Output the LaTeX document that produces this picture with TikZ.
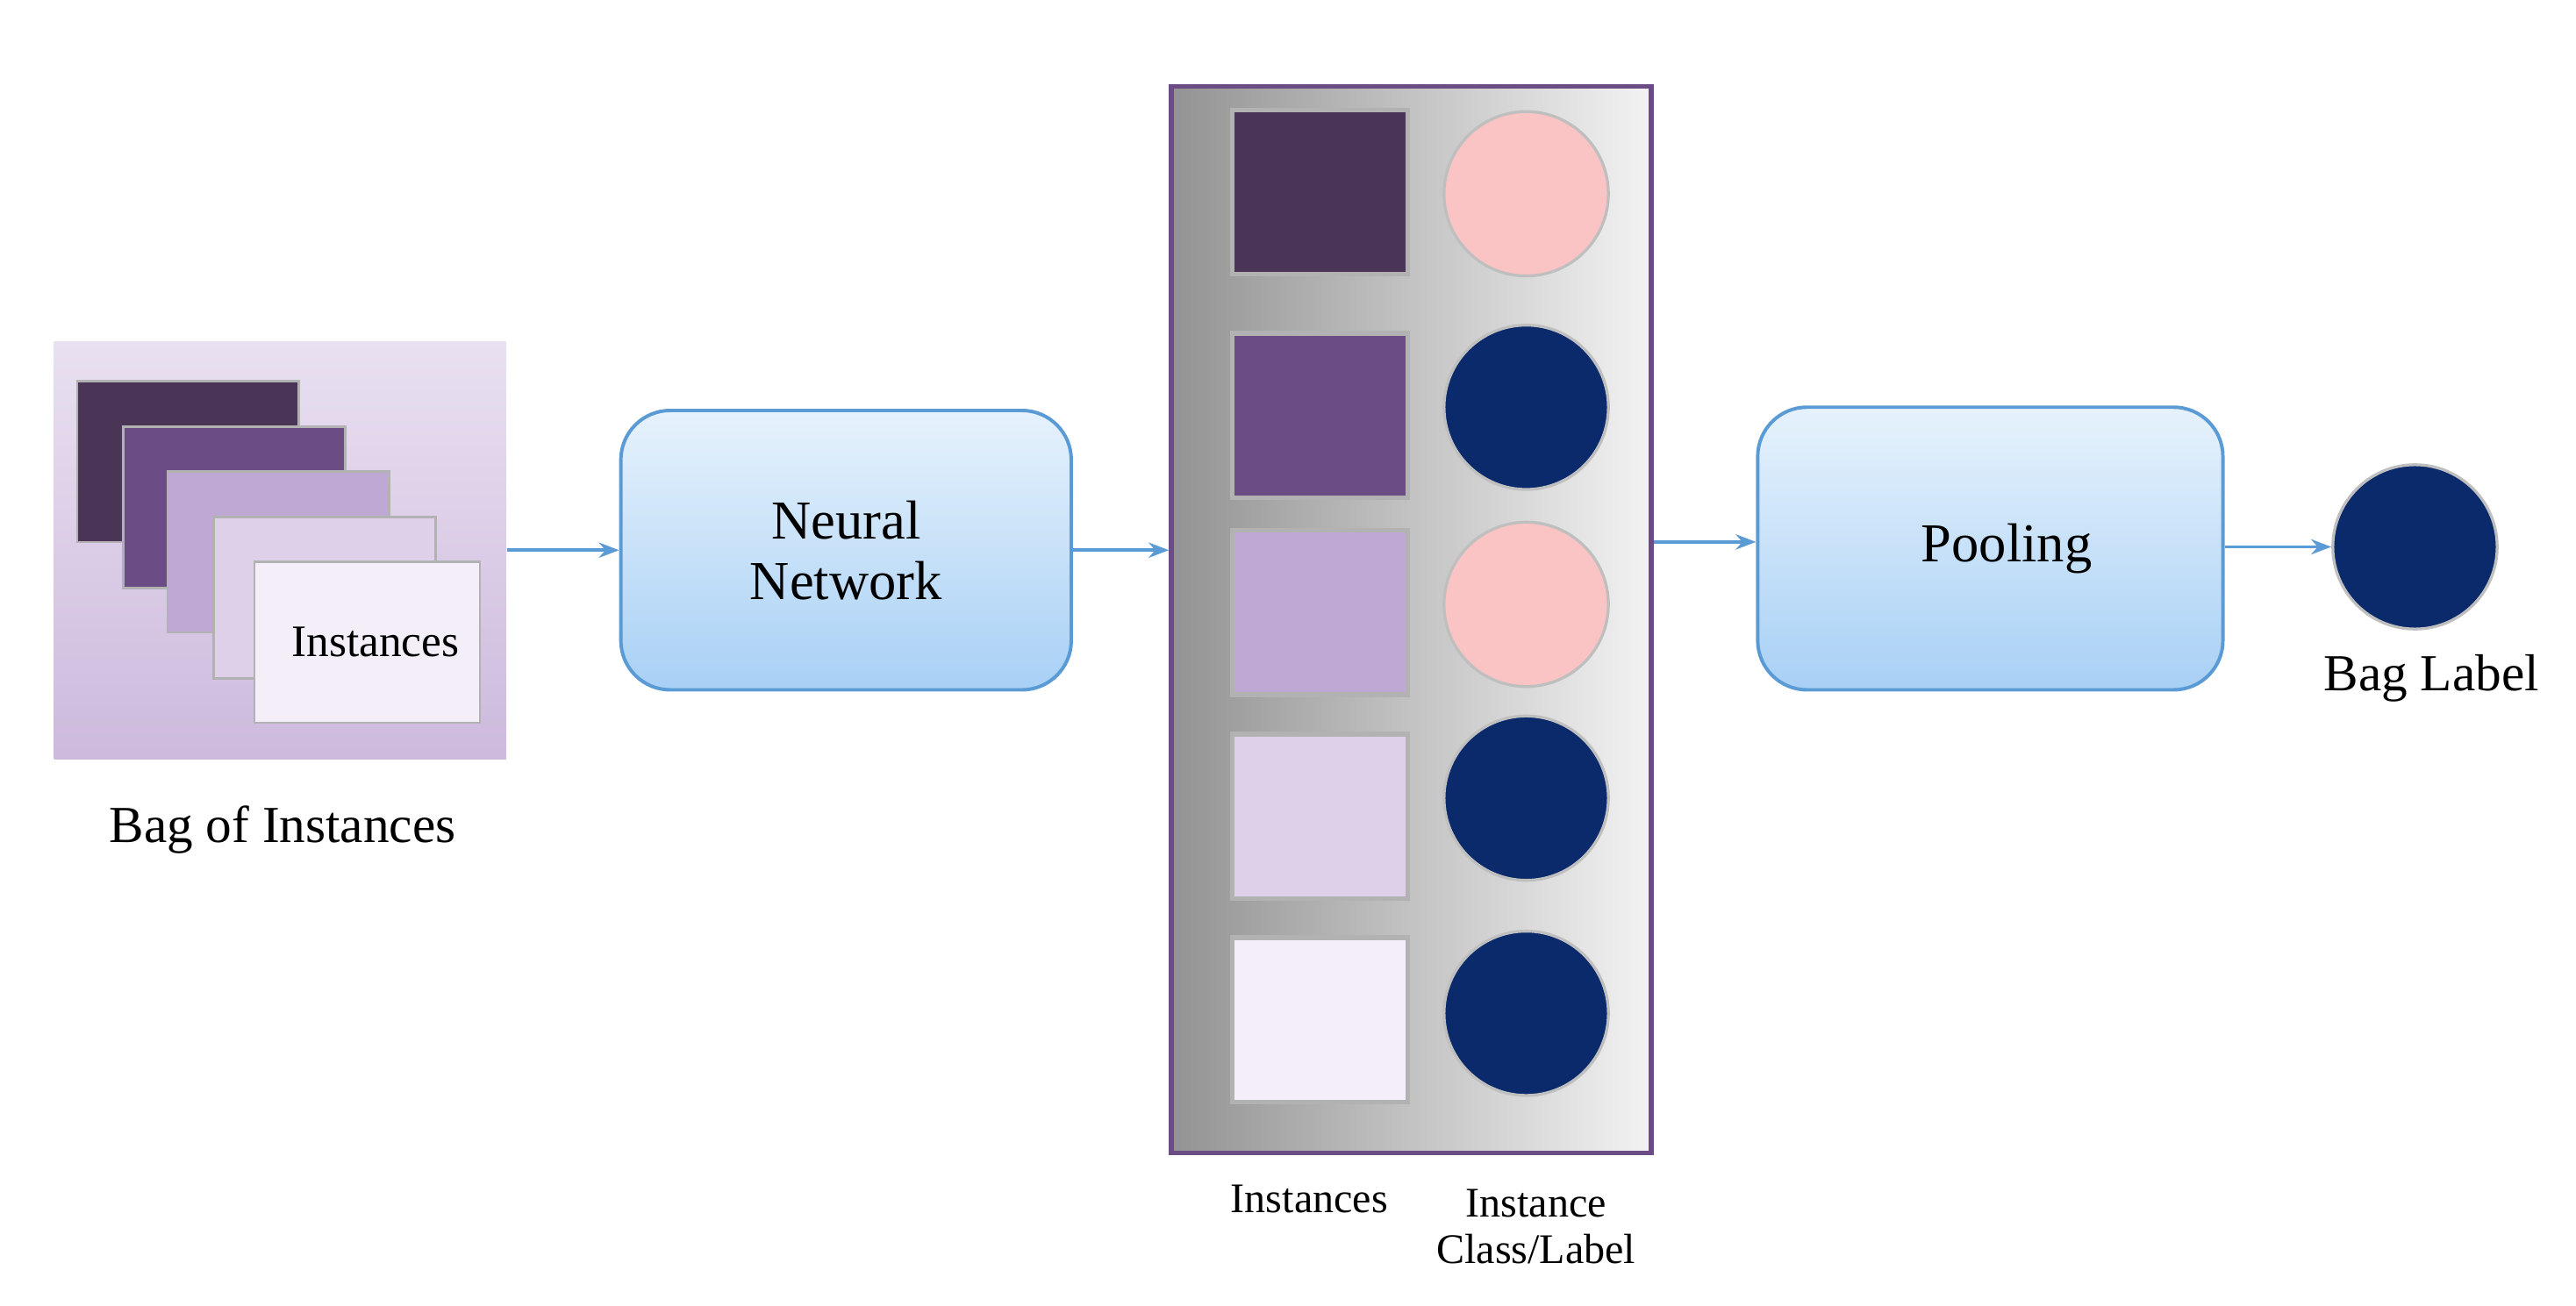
\documentclass[tikz,border=0pt]{standalone}
\usepackage{fontspec}
\setmainfont{Liberation Serif}
\usetikzlibrary{arrows.meta}
\definecolor{p1}{HTML}{4A3557}\definecolor{p2}{HTML}{6B4C85}\definecolor{p3}{HTML}{C0A8D4}
\definecolor{p4}{HTML}{DDD0E8}\definecolor{p5}{HTML}{F3EEF8}
\definecolor{pink}{HTML}{FBC4C4}\definecolor{navy}{HTML}{0A2A6B}
\definecolor{bluebd}{HTML}{5A9BD5}\definecolor{btop}{HTML}{E6F2FC}\definecolor{bbot}{HTML}{A8D0F5}
\begin{document}
\begin{tikzpicture}[x=0.01cm,y=-0.01cm,
 sq/.style={draw=gray!60,line width=0.8pt},
 circ/.style={circle,minimum size=1cm,inner sep=0pt,draw=gray!50,line width=0.5pt},
 box/.style={rounded corners=0.3cm,draw=bluebd,line width=0.6pt,top color=btop,bottom color=bbot,align=center,font=\fontsize{9.5}{10.5}\selectfont},
 arr/.style={-{Stealth[length=3.5pt]},draw=bluebd,line width=0.6pt},
 lab/.style={font=\fontsize{7.3}{8}\selectfont,align=center}]
\useasboundingbox (0,0) rectangle (1568,795);
% bag
\node[inner sep=0pt,minimum width=2.75cm,minimum height=2.54cm,top color=p5!80!p3,bottom color=p3!80!white] (bag) at (170.5,335) {};
\foreach \c/\dx in {p1/0,p2/28,p3/55,p4/83}
  \fill[\c,draw=gray!60] (47+\dx,232+\dx) rectangle ++(135,98);
\node[draw=gray!60,fill=p5,minimum width=1.37cm,minimum height=0.98cm,inner sep=0pt,lab,font=\fontsize{7.8}{8}\selectfont] (inst) at (223.5,391) {\hspace{0.1cm}Instances};
\node[lab,font=\fontsize{9}{10}\selectfont] (baglab) at (172,505) {Bag of Instances};
% neural network
\node[box,minimum width=2.74cm,minimum height=1.7cm] (nn) at (515,335) {Neural\\Network};
% panel
\node[inner sep=0pt,minimum width=2.92cm,minimum height=6.49cm,left color=gray!85,right color=gray!10,draw=p2,line width=0.8pt] (panel) at (859,377.5) {};
\foreach \y/\c [count=\i] in {67/p1,203/p2,323/p3,447/p4,571/p5}
  \node[sq,fill=\c,minimum width=1.07cm,minimum height=1cm,inner sep=0pt] (s\i) at (803.5,\y+50) {};
\foreach \y/\c [count=\i] in {118/pink,248/navy,368/pink,486/navy,617/navy}
  \node[circ,fill=\c] (c\i) at (929,\y) {};
\node[lab] (l1) at (797,730) {Instances};
\node[lab] (l2) at (935,747) {Instance\\Class/Label};
% pooling
\node[box,minimum width=2.83cm,minimum height=1.72cm] (pool) at (1211.5,334) {\hspace{0.2cm}Pooling};
\node[circ,fill=navy] (bl) at (1470,333) {};
\node[lab,font=\fontsize{9}{10}\selectfont] (bll) at (1480,413) {Bag Label};
% arrows
\draw[arr] (bag.east |- 0,335) -- (nn.west |- 0,335);
\draw[arr] (nn.east |- 0,335) -- (panel.west |- 0,335);
\draw[arr] (panel.east |- 0,330) -- (pool.west |- 0,330);
\draw[arr] (pool.east |- 0,333) -- (bl.west);
\end{tikzpicture}
\end{document}
